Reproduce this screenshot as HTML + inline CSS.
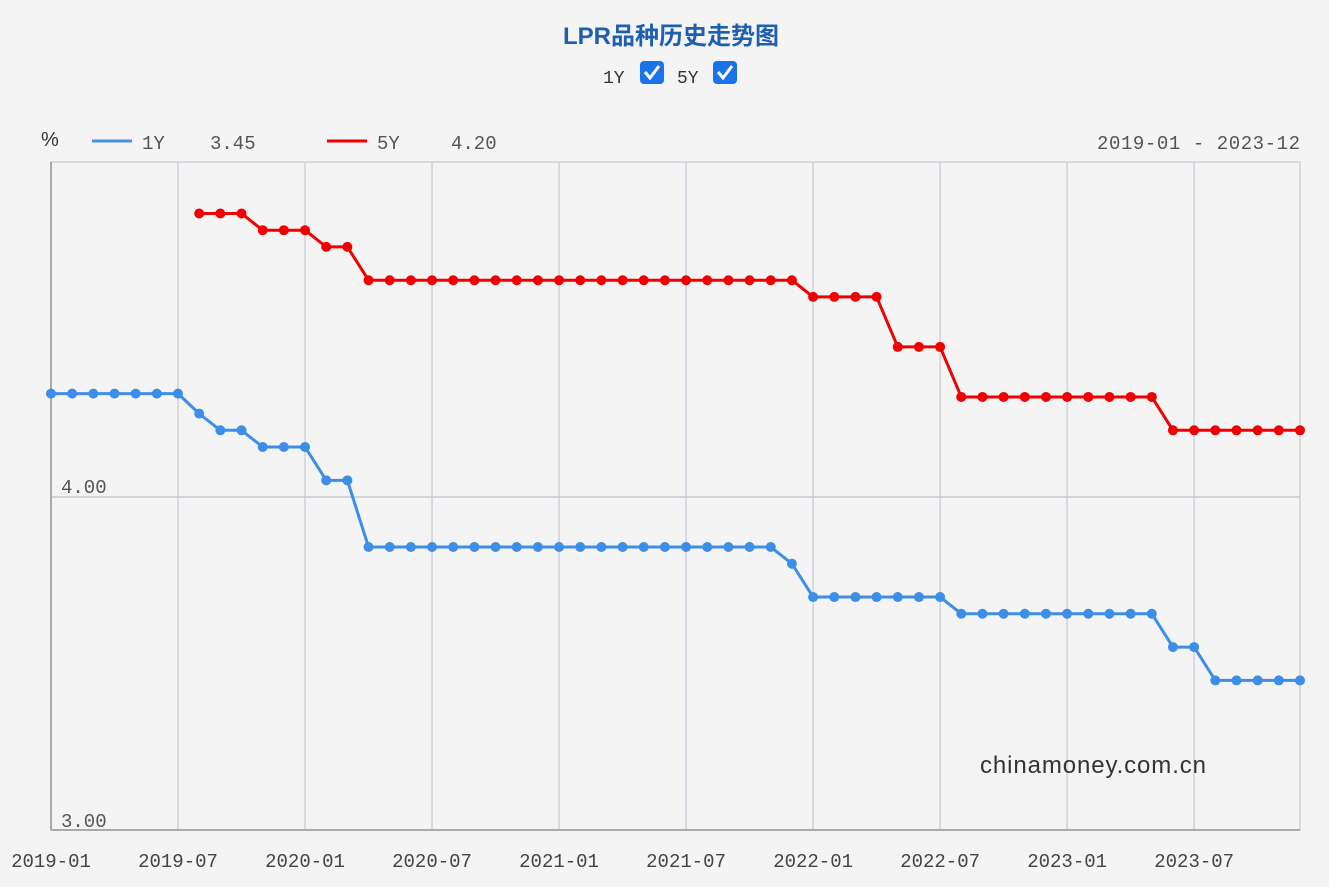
<!DOCTYPE html>
<html><head><meta charset="utf-8"><style>
body{margin:0;background:#f4f4f4;}
svg{display:block;font-family:"Liberation Mono","Noto Sans CJK SC",monospace;}
</style></head><body>
<svg id="c" width="1329" height="887" xmlns="http://www.w3.org/2000/svg">
<rect width="1329" height="887" fill="#f4f4f4"/>
<text x="671" y="44" text-anchor="middle" font-family="Liberation Sans,Noto Sans CJK SC,sans-serif" font-size="24" font-weight="bold" fill="#1f5fb0">LPR品种历史走势图</text>
<text x="603" y="83" font-size="18" fill="#333">1Y</text>
<rect x="640" y="61" width="24" height="23" rx="4" fill="#1a73e8"/>
<path d="M645 72 l5 6 l9 -12" stroke="#fff" stroke-width="3" fill="none"/>
<text x="677" y="83" font-size="18" fill="#333">5Y</text>
<rect x="713" y="61" width="24" height="23" rx="4" fill="#1a73e8"/>
<path d="M718 72 l5 6 l9 -12" stroke="#fff" stroke-width="3" fill="none"/>
<text x="41" y="146" font-size="20" fill="#333" font-family="Liberation Sans,sans-serif">%</text>
<line x1="92" y1="141" x2="132" y2="141" stroke="#4a90e2" stroke-width="3"/>
<text x="142" y="149" font-size="19" fill="#555">1Y</text>
<text x="210" y="149" font-size="19" fill="#555">3.45</text>
<line x1="327" y1="141" x2="367" y2="141" stroke="#ee0000" stroke-width="3"/>
<text x="377" y="149" font-size="19" fill="#555">5Y</text>
<text x="451" y="149" font-size="19" fill="#555">4.20</text>
<text x="1300" y="149" text-anchor="end" font-size="19" fill="#555" textLength="203">2019-01 - 2023-12</text>
<g id="grid"></g>
<text x="61" y="493" font-size="19" fill="#555">4.00</text>
<text x="61" y="827" font-size="19" fill="#555">3.00</text>
<text x="980" y="773" font-family="Liberation Sans,sans-serif" font-size="24" fill="#333" textLength="226">chinamoney.com.cn</text>
<g id="series"></g>
</svg>
<script>
var ns="http://www.w3.org/2000/svg";
function el(p,t,a){var e=document.createElementNS(ns,t);for(var k in a)e.setAttribute(k,a[k]);p.appendChild(e);return e;}
var g=document.getElementById('grid'),s=document.getElementById('series');
var X=function(i){return 51+i*1249/59;},Y=function(v){return 497-(v-4)*333.5;};
el(g,'rect',{x:51,y:162,width:1249,height:668,fill:'none',stroke:'#d0d0d8','stroke-width':1.5});
var labs=['2019-01','2019-07','2020-01','2020-07','2021-01','2021-07','2022-01','2022-07','2023-01','2023-07'];
for(var k=0;k<10;k++){var x=X(k*6);el(g,'line',{x1:x,y1:162,x2:x,y2:830,stroke:'#d0d0dc','stroke-width':1.5});
var t=el(g,'text',{x:x,y:867,'text-anchor':'middle','font-size':19,fill:'#444'});t.textContent=labs[k];}
el(g,'line',{x1:51,y1:497,x2:1300,y2:497,stroke:'#c8c8d4','stroke-width':1.5});
el(g,'line',{x1:51,y1:162,x2:51,y2:830,stroke:'#aaa','stroke-width':2});
el(g,'line',{x1:51,y1:830,x2:1300,y2:830,stroke:'#aaa','stroke-width':2});
function rep(v,n){var a=[];for(var i=0;i<n;i++)a.push(v);return a;}
var y1=[].concat(rep(4.31,7),[4.25,4.20,4.20,4.15,4.15,4.15,4.05,4.05],rep(3.85,20),[3.80],rep(3.70,7),rep(3.65,10),[3.55,3.55],rep(3.45,5));
var y5=[].concat([4.85,4.85,4.85,4.80,4.80,4.80,4.75,4.75],rep(4.65,21),rep(4.60,4),rep(4.45,3),rep(4.30,10),rep(4.20,7));
function draw(d,off,c){var p=d.map(function(v,i){return X(i+off)+','+Y(v);}).join(' ');
el(s,'polyline',{points:p,fill:'none',stroke:c,'stroke-width':3,'stroke-linejoin':'round'});
d.forEach(function(v,i){el(s,'circle',{cx:X(i+off),cy:Y(v),r:5,fill:c});});}
draw(y1,0,'#3d8ee6');draw(y5,7,'#f00000');
</script>
</body></html>
